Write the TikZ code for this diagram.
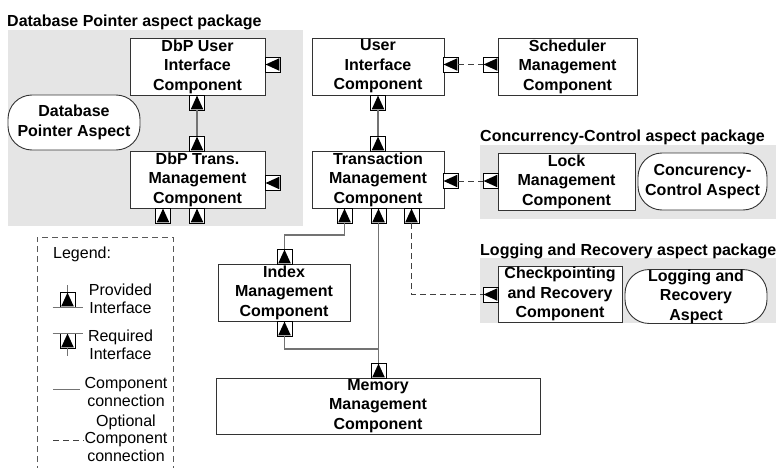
\documentclass[tikz,border=0pt]{standalone}
\usepackage{fontspec}
\setmainfont{Liberation Sans}
\begin{document}
\begin{tikzpicture}[x=1pt,y=-1pt,
  box/.style={draw=black!80, line width=0.9pt, fill=white, inner sep=0pt, align=center,
    minimum height=57pt, font=\bfseries\fontsize{16}{19.5}\selectfont},
  aspectshape/.style={box, rounded corners=24pt},
  pkg/.style={fill=black!10, draw=none},
  pkgtitle/.style={anchor=base west, inner sep=0pt, font=\bfseries\fontsize{16}{18}\selectfont},
  ifc/.style={draw=black, line width=0.6pt, fill=white, minimum size=15pt, inner sep=0pt, outer sep=0pt},
  ifup/.style={ifc, path picture={\fill[black]
      ([xshift=1.2pt,yshift=0.6pt]path picture bounding box.south west) --
      ([yshift=-0.6pt]path picture bounding box.north) --
      ([xshift=-1.2pt,yshift=0.6pt]path picture bounding box.south east) -- cycle;}},
  ifleft/.style={ifc, path picture={\fill[black]
      ([xshift=-0.6pt,yshift=1.2pt]path picture bounding box.south east) --
      ([xshift=0.6pt]path picture bounding box.west) --
      ([xshift=-0.6pt,yshift=-1.2pt]path picture bounding box.north east) -- cycle;}},
  conn/.style={draw=black!55, line width=1.3pt},
  optconn/.style={draw=black!75, line width=1pt, dash pattern=on 6pt off 4pt},
  legendtext/.style={align=center, inner sep=0pt, font=\fontsize{16}{17.5}\selectfont},
]
\useasboundingbox (0,0) rectangle (776,468);

% aspect packages
\fill[pkg] (8,30) rectangle (303,226);
\fill[pkg] (480,145) rectangle (776,219);
\fill[pkg] (480,258) rectangle (776,323);
\node[pkgtitle] (tdb) at (7,27) {Database Pointer aspect package};
\node[pkgtitle] (tcc) at (480,142) {Concurrency-Control aspect package};
\node[pkgtitle] (tlr) at (480,255) {Logging and Recovery aspect package};

% components
\node[box, minimum width=135pt] (dbpu) at (197.5,66.5) {DbP User\\Interface\\Component};
\node[box, minimum width=135pt] (dbpt) at (197.5,179.5) {DbP Trans.\\Management\\Component};
\node[box, minimum width=132pt] (ui) at (378,66.5) {User\\Interface\\Component};
\node[box, minimum width=132pt] (tr) at (378,179.5) {Transaction\\Management\\Component};
\node[box, minimum width=139pt] (sch) at (567.5,66.5) {Scheduler\\Management\\Component};
\node[box, minimum width=137pt] (lock) at (566.5,181.5) {Lock\\Management\\Component};
\node[box, minimum width=124pt, minimum height=56pt] (cp) at (560,294) {Checkpointing\\and Recovery\\Component};
\node[box, minimum width=132pt] (ix) at (284,292.5) {Index\\Management\\Component};
\node[box, minimum width=324pt, minimum height=56pt] (mem) at (378,406) {Memory\\Management\\Component};

% aspects
\node[aspectshape, minimum width=132pt, minimum height=55pt] (dpa) at (74,122.5) {Database\\Pointer Aspect};
\node[aspectshape, minimum width=129pt] (cca) at (702.5,181.5) {Concurency-\\Control Aspect};
\node[aspectshape, minimum width=142pt, minimum height=53pt] (lra) at (696,296.5) {Logging and\\Recovery\\Aspect};

% interfaces
\node[ifleft] (dbpuR) at (272.5,64.5) {};
\node[ifup] (dbpuB) at (197,102.5) {};
\node[ifup] (dbptT) at (197,143.5) {};
\node[ifleft] (dbptR) at (272.5,183) {};
\node[ifup] (dbptB1) at (163,215.5) {};
\node[ifup] (dbptB2) at (197,215.5) {};
\node[ifleft] (uiR) at (450.5,64.5) {};
\node[ifleft] (schL) at (490.5,64.5) {};
\node[ifup] (uiB) at (378,102.5) {};
\node[ifup] (trT) at (378,143.5) {};
\node[ifleft] (trR) at (450.5,181) {};
\node[ifleft] (lockL) at (490.5,181) {};
\node[ifup] (trB1) at (344.5,215.5) {};
\node[ifup] (trB2) at (378.5,215.5) {};
\node[ifup] (trB3) at (411.5,215.5) {};
\node[ifup] (ixT) at (284.5,256.5) {};
\node[ifup] (ixB) at (284.5,328.5) {};
\node[ifup] (memT) at (378.5,370.5) {};
\node[ifleft] (cpL) at (490.5,294.5) {};

% connections
\draw[conn] (dbpuB.south) -- (dbptT.north);
\draw[conn] (uiB.south) -- (trT.north);
\draw[optconn] (uiR.east) -- (schL.west);
\draw[optconn] (trR.east) -- (lockL.west);
\draw[conn] (trB1.south) -- ++(0,12) -| (ixT.north);
\draw[conn] (trB2.south) -- (memT.north);
\coordinate (join) at (378.5,349);
\draw[conn] (ixB.south) |- (join);
\draw[optconn] (trB3.south) |- (cpL.west);

% legend
\draw[draw=black!65, line width=1pt, dash pattern=on 6pt off 4pt]
  (37,472) -- (37,237) -- (173,237) -- (173,472);
\node[legendtext, anchor=base west] (lgt) at (53,258) {Legend:};
\node[ifup] (lgp) at (67.5,299.5) {};
\draw[conn, line width=1pt] (lgp.north) -- ++(0,-7);
\draw[conn, line width=1pt] ([xshift=-15pt]lgp.south) -- ([xshift=15pt]lgp.south);
\node[legendtext] (lgpt) at (120.5,299) {Provided\\Interface};
\node[ifup] (lgr) at (67.5,340.5) {};
\draw[conn, line width=1pt] (lgr.south) -- ++(0,8);
\draw[conn, line width=1pt] ([xshift=-15pt]lgr.north) -- ([xshift=15pt]lgr.north);
\node[legendtext] (lgrt) at (120.5,345) {Required\\Interface};
\coordinate (lgc1) at (53,389);
\coordinate (lgc2) at (80,389);
\draw[conn, line width=1pt] (lgc1) -- (lgc2);
\node[legendtext] (lgct) at (126,392) {Component\\connection};
\coordinate (lgo1) at (53,440);
\coordinate (lgo2) at (84,440);
\draw[optconn] (lgo1) -- (lgo2);
\node[legendtext] (lgot) at (126,438) {Optional\\Component\\connection};
\end{tikzpicture}
\end{document}
